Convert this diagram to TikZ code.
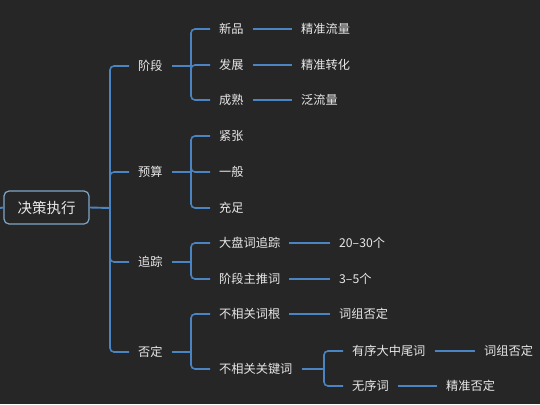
\documentclass[tikz,border=0pt]{standalone}
\usepackage{fontspec}
\setmainfont{Noto Sans CJK SC}
\definecolor{bg}{HTML}{262626}
\definecolor{txt}{HTML}{E8E8E8}
\definecolor{ln}{HTML}{4A84C2}
\definecolor{rootb}{HTML}{7FA6C6}
\begin{document}
\begin{tikzpicture}[x=1pt,y=-1pt,
  lbl/.style={anchor=west,text=txt,inner xsep=9pt,inner ysep=2pt,font=\fontsize{12.2}{14}\selectfont},
  rootbox/.style={draw=rootb,line width=1.2pt,rounded corners=5pt,fill=bg,text=txt,minimum width=85pt,minimum height=33pt,inner sep=0pt,font=\fontsize{14.5}{17}\selectfont},
  conn/.style={draw=ln,line width=1.6pt,rounded corners=4pt},
  thick conn/.style={draw=ln,line width=1.9pt}]
\fill[bg] (0,0) rectangle (540,404);
\useasboundingbox (0,0) rectangle (540,404);
% root
\node[rootbox] (root) at (46.5,207.5) {决策执行};
\coordinate (lft) at (0,208);
\coordinate (t) at (110,208);
% level 1
\node[lbl] (a1) at (129,66) {阶段};
\node[lbl] (a2) at (129,172) {预算};
\node[lbl] (a3) at (129,262) {追踪};
\node[lbl] (a4) at (129,352) {否定};
% level 2
\node[lbl] (b11) at (210,29) {新品};
\node[lbl] (b12) at (210,65) {发展};
\node[lbl] (b13) at (210,100) {成熟};
\node[lbl] (b21) at (210,136) {紧张};
\node[lbl] (b22) at (210,172) {一般};
\node[lbl] (b23) at (210,208) {充足};
\node[lbl] (b31) at (210,243) {大盘词追踪};
\node[lbl] (b32) at (210,279) {阶段主推词};
\node[lbl] (b41) at (210,314) {不相关词根};
\node[lbl] (b42) at (210,369) {不相关关键词};
% level 3
\node[lbl] (c11) at (292,29) {精准流量};
\node[lbl] (c12) at (292,65) {精准转化};
\node[lbl] (c13) at (292,100) {泛流量};
\node[lbl] (c31) at (330,243) {20–30个};
\node[lbl] (c32) at (330,279) {3–5个};
\node[lbl] (c41) at (330,314) {词组否定};
\node[lbl] (d1) at (343,351) {有序大中尾词};
\node[lbl] (d2) at (343,386) {无序词};
% level 4
\node[lbl] (e1) at (475,351) {词组否定};
\node[lbl] (e2) at (437,386) {精准否定};
% junctions
\coordinate (j1) at (191,66);
\coordinate (j2) at (191,172);
\coordinate (j3) at (191,262);
\coordinate (j4) at (191,352);
\coordinate (j5) at (324,369);
% connectors
\draw[thick conn] (lft) -- (root.west);
\draw[thick conn] (root.east) -- (t);
\foreach \n in {a1,a2,a3,a4} \draw[conn] (t) |- (\n.west);
\draw[thick conn] (a1.east) -- (j1);
\draw[thick conn] (a2.east) -- (j2);
\draw[thick conn] (a3.east) -- (j3);
\draw[thick conn] (a4.east) -- (j4);
\draw[thick conn] (b42.east) -- (j5);
\foreach \n in {b11,b12,b13} \draw[conn] (j1) |- (\n.west);
\foreach \n in {b21,b22,b23} \draw[conn] (j2) |- (\n.west);
\foreach \n in {b31,b32} \draw[conn] (j3) |- (\n.west);
\foreach \n in {b41,b42} \draw[conn] (j4) |- (\n.west);
\foreach \n in {d1,d2} \draw[conn] (j5) |- (\n.west);
\draw[conn] (b11.east) -- (c11.west);
\draw[conn] (b12.east) -- (c12.west);
\draw[conn] (b13.east) -- (c13.west);
\draw[conn] (b31.east) -- (c31.west);
\draw[conn] (b32.east) -- (c32.west);
\draw[conn] (b41.east) -- (c41.west);
\draw[conn] (d1.east) -- (e1.west);
\draw[conn] (d2.east) -- (e2.west);
\end{tikzpicture}
\end{document}
